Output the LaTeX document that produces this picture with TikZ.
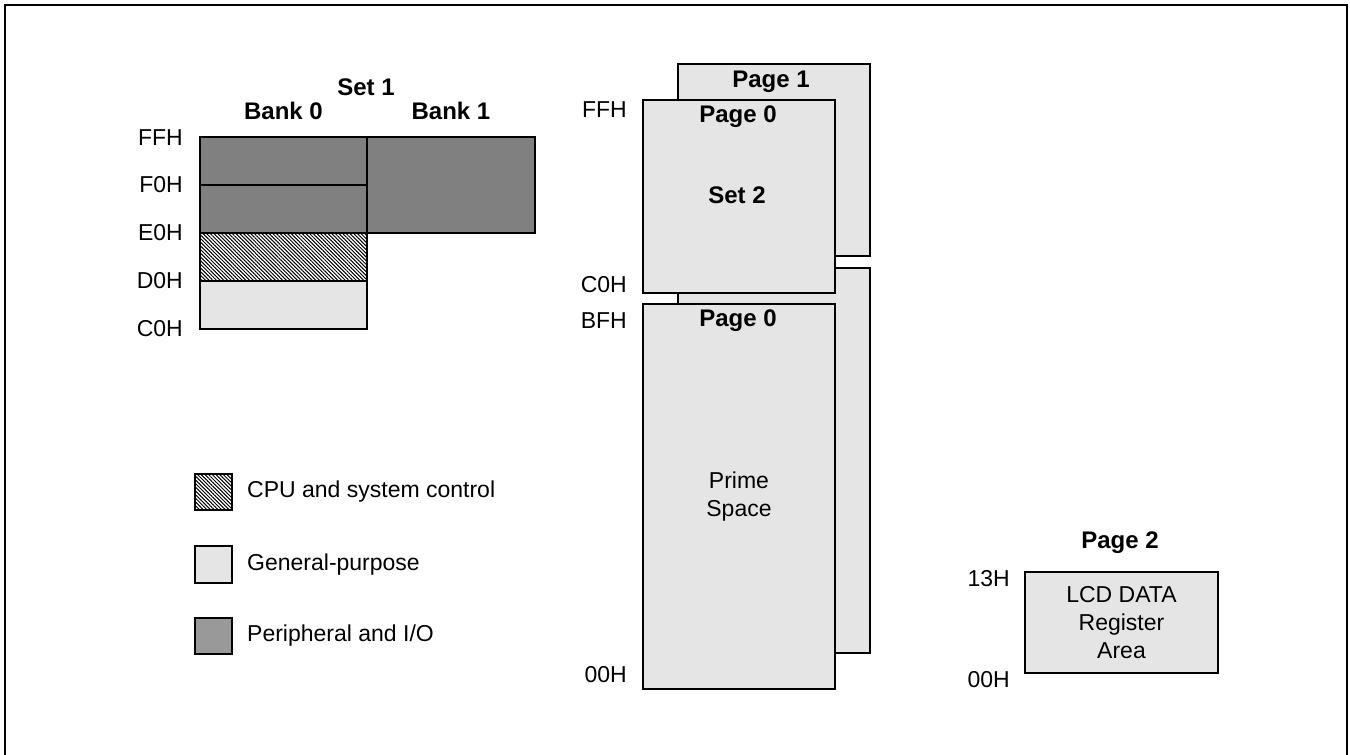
\documentclass[tikz,border=0pt]{standalone}
\usepackage{fontspec}
\setmainfont{Liberation Sans}
\usetikzlibrary{positioning,patterns.meta}

\begin{document}
\begin{tikzpicture}[
  x=1pt, y=-1pt,
  font=\fontsize{23}{28}\selectfont,
  every node/.style={inner sep=0pt},
  reg/.style={draw=black, line width=2pt, anchor=north west, align=center},
  light/.style={reg, fill=black!10},
  dark/.style={reg, fill=black!50},
  cpu/.style={reg, pattern={Lines[angle=-45,distance=2.6pt,line width=1pt]}},
  addr/.style={anchor=east},
  head/.style={font=\fontsize{24}{28}\selectfont\bfseries},
  key/.style={right=14pt of #1, anchor=west}
]
\useasboundingbox (0,0) rectangle (1350,755);
\clip (0,0) rectangle (1350,755);
\draw[line width=2pt] (5,5) rectangle (1347,770);

% Set 1
\node[dark, minimum width=167pt, minimum height=48pt] (b0ff) at (199,136) {};
\node[dark, minimum width=167pt, minimum height=48pt] (b0f0) at (199,184) {};
\node[cpu, minimum width=167pt, minimum height=48pt] (b0e0) at (199,232) {};
\node[light, minimum width=167pt, minimum height=48pt] (b0d0) at (199,280) {};
\node[dark, minimum width=168pt, minimum height=96pt] (bank1) at (366,136) {};
\node[head, above=16pt of b0ff] (bank0lbl) {Bank 0};
\node[head, above=16pt of bank1] (bank1lbl) {Bank 1};
\node[head] (set1lbl) at (366,87) {Set 1};
\node[addr] (aff1) at (183,138) {FFH};
\node[addr] (af01) at (183,185) {F0H};
\node[addr] (ae01) at (183,233) {E0H};
\node[addr] (ad01) at (183,281) {D0H};
\node[addr] (ac01) at (183,329) {C0H};

% Set 2 and prime space
\node[light, minimum width=192pt, minimum height=192pt] (pg1) at (677,63) {};
\node[light, minimum width=192pt, minimum height=385pt] (pg1prime) at (677,267) {};
\node[light, minimum width=192pt, minimum height=193pt] (set2) at (642,99) {};
\node[light, minimum width=192pt, minimum height=385pt] (prime) at (642,303) {Prime\\Space};
\node[head] (pg1lbl) at (771,82) {Page 1};
\node[head] (set2pg0) at (738,117) {Page 0};
\node[head] (set2lbl) at (737,195) {Set 2};
\node[head] (primepg0) at (738,321) {Page 0};
\node[addr] (aff2) at (627,110) {FFH};
\node[addr] (ac02) at (627,285) {C0H};
\node[addr] (abf) at (627,321) {BFH};
\node[addr] (a002) at (627,675) {00H};

% Page 2
\node[light, minimum width=193pt, minimum height=101pt] (lcd) at (1024,571) {LCD DATA\\Register\\Area};
\node[head] (pg2lbl) at (1120,543) {Page 2};
\node[addr] (a13) at (1010,579) {13H};
\node[addr] (a00lcd) at (1010,680) {00H};

% legend
\node[cpu, minimum width=37pt, minimum height=36pt] (keycpu) at (194,473) {};
\node[light, minimum width=37pt, minimum height=37pt] (keygen) at (194,545) {};
\node[reg, fill=black!40, minimum width=37pt, minimum height=36pt] (keyper) at (194,617) {};
\node[key=keycpu] (keycpulbl) {CPU and system control};
\node[key=keygen] (keygenlbl) {General-purpose};
\node[key=keyper] (keyperlbl) {Peripheral and I/O};
\end{tikzpicture}
\end{document}
